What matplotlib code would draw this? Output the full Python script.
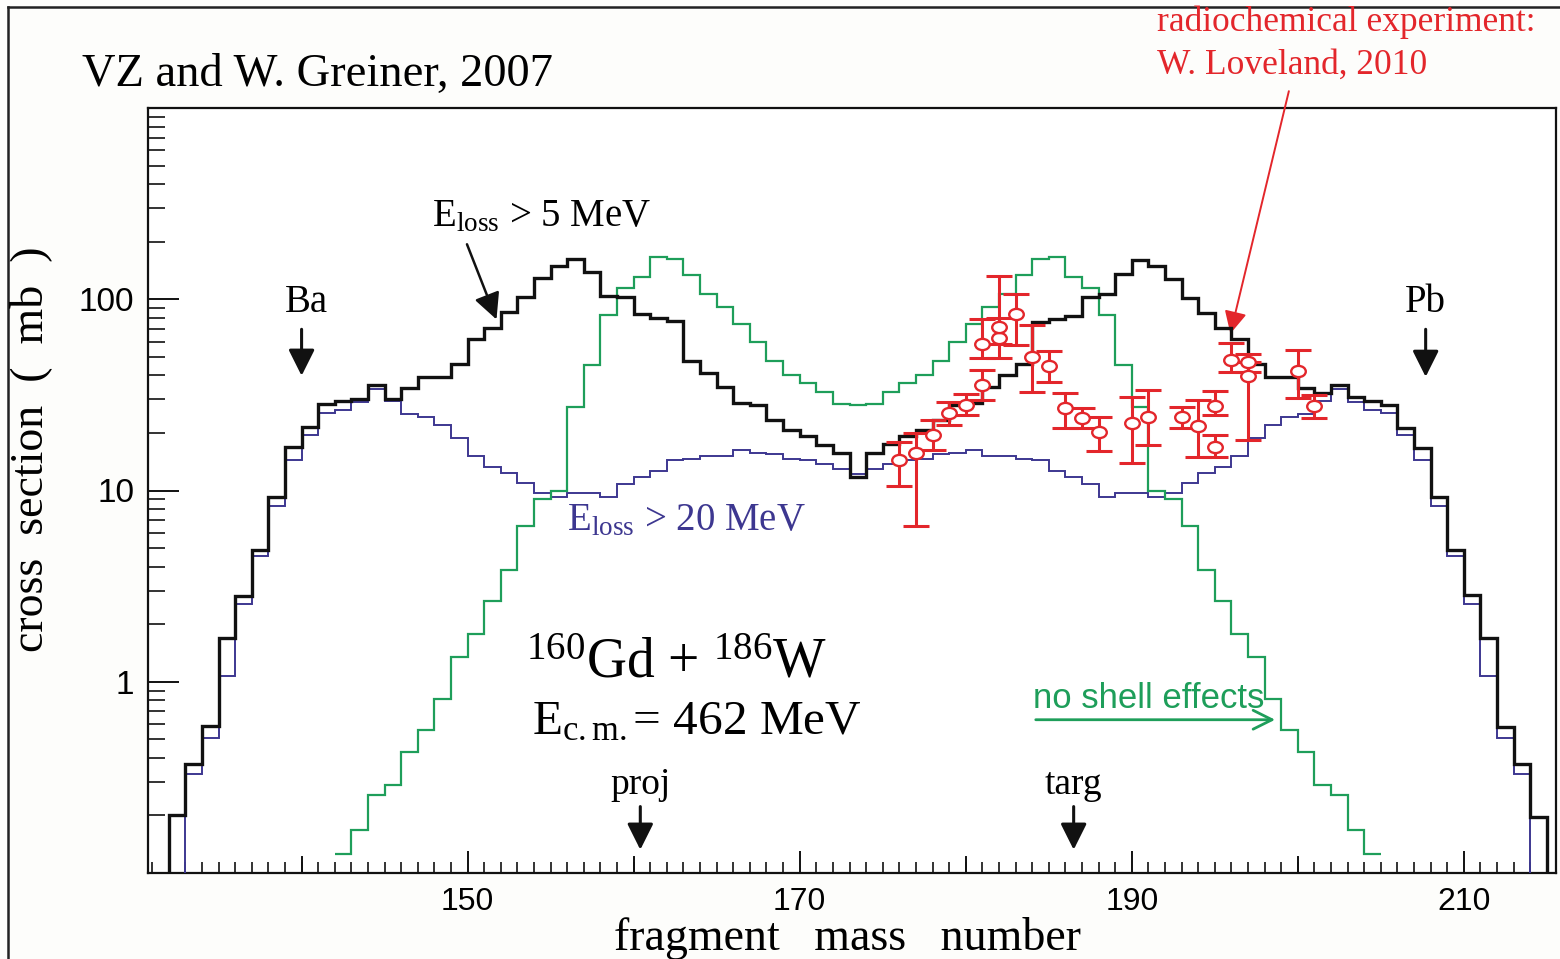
import numpy as np
import matplotlib
matplotlib.use("Agg")
import matplotlib.pyplot as plt
from matplotlib.path import Path
from matplotlib.ticker import FixedLocator, NullFormatter, MultipleLocator

# ---------------- data ----------------
black_start = 132
black_vals = [0.2, 0.37, 0.59, 1.7, 2.8, 4.9, 9.3, 16.8, 21.4, 28.3,
              29.3, 30.2, 35.8, 30.0, 34.3, 39.0, 39.0, 46.0, 61.7, 70.7,
              86.0, 103.0, 129.0, 150.0, 162.0, 138.0, 104.0, 103.0, 84.0, 80.0,
              77.0, 47.8, 41.0, 34.8, 28.8, 27.9, 23.5, 20.7, 19.3, 17.3,
              15.8, 11.8, 15.8, 17.5, 19.3, 20.7, 23.5, 27.9, 28.8, 34.8,
              40.0, 46.0, 76.0, 79.3, 82.0, 103.0, 107.0, 136.0, 161.0, 150.0,
              127.0, 102.0, 85.0, 70.7, 61.7, 46.0, 39.0, 39.0, 34.3, 32.3,
              35.6, 30.7, 29.3, 27.9, 21.2, 16.6, 9.2, 4.88, 2.84, 1.7,
              0.58, 0.37, 0.196]

blue_start = 133
blue_vals = [0.33, 0.51, 1.07, 2.56, 4.57, 8.3, 14.5, 19.4, 25.3, 26.5,
             29.0, 33.8, 29.5, 25.0, 24.1, 21.9, 18.9, 15.2, 13.3, 12.4,
             11.0, 9.7, 9.3, 9.7, 9.7, 9.3, 10.8, 11.8, 12.7, 14.4,
             14.7, 15.1, 15.1, 16.2, 15.8, 15.5, 14.7, 14.4, 13.7, 13.0,
             12.2, 13.0, 13.7, 14.4, 14.7, 15.5, 15.8, 16.2, 15.1, 15.1,
             14.7, 14.4, 12.7, 11.8, 10.8, 9.3, 9.7, 9.7, 9.3, 9.7,
             11.0, 12.4, 13.3, 15.2, 18.9, 21.9, 24.1, 25.0, 29.5, 33.8,
             29.0, 26.5, 25.3, 19.4, 14.5, 8.3, 4.57, 2.56, 1.07, 0.51,
             0.33]

green_start = 142
green_vals = [0.126, 0.168, 0.255, 0.29, 0.43, 0.56, 0.81, 1.34, 1.78, 2.64,
              3.82, 6.55, 9.0, 10.0, 27.2, 45.5, 82.5, 114.0, 131.0, 167.0,
              162.0, 134.0, 107.0, 90.6, 74.0, 59.6, 47.8, 40.0, 36.5, 32.8,
              28.5, 28.0, 28.5, 32.8, 36.5, 40.0, 47.8, 59.6, 74.0, 90.6,
              107.0, 134.0, 162.0, 167.0, 131.0, 114.0, 82.5, 45.5, 27.2, 10.0,
              9.0, 6.55, 3.82, 2.64, 1.78, 1.34, 0.81, 0.56, 0.43, 0.29,
              0.255, 0.168, 0.126]

# radiochemical experiment (W. Loveland, 2010)
exp_A   = [176, 177, 178, 179, 180, 181, 181, 182, 182, 183, 184, 185, 186,
           187, 188, 190, 191, 193, 194, 195, 195, 196, 197, 197, 200, 201]
exp_val = [14.5, 15.8, 19.5, 25.3, 27.9, 35.6, 58.0, 63.0, 71.6, 84.0, 49.6, 44.7, 26.9,
           23.8, 20.3, 22.6, 24.3, 24.3, 21.7, 27.6, 16.9, 48.4, 47.1, 39.6, 42.2, 27.6]
exp_lo  = [10.5, 6.5, 16.3, 22.0, 24.8, 29.6, 49.0, 49.0, 58.0, 57.5, 32.8, 37.0, 21.1,
           21.1, 16.0, 13.9, 17.3, 21.1, 15.0, 24.8, 15.0, 41.7, 41.7, 18.4, 30.3, 23.8]
exp_hi  = [18.0, 20.0, 23.3, 29.0, 32.0, 42.6, 79.0, 80.0, 133.0, 107.0, 73.0, 53.7, 32.2,
           26.9, 24.3, 30.9, 33.5, 27.4, 29.6, 33.0, 19.5, 58.7, 52.0, 47.0, 54.2, 31.5]

x_major = [150, 170, 190, 210]
y_major = [1, 10, 100]
y_major_labels = ["1", "10", "100"]

# ---------------- style ----------------
SERIF = ["Liberation Serif", "DejaVu Serif"]
SANS = ["Liberation Sans", "DejaVu Sans"]
plt.rcParams["mathtext.fontset"] = "custom"
plt.rcParams["mathtext.rm"] = "Liberation Serif"
plt.rcParams["mathtext.it"] = "Liberation Serif:italic"

C_BLACK = "#111111"
C_BLUE = "#3d3790"
C_GREEN = "#1e9e5a"
C_RED = "#e3262b"

W, H = 1560, 959
fig = plt.figure(figsize=(W / 100, H / 100), dpi=100, facecolor="#fdfdfb")

# outer frame (top and left edges visible)
fig.add_artist(plt.Line2D([8 / W, 8 / W], [0, 1 - 7 / H], transform=fig.transFigure, color="#222222", lw=1.8))
fig.add_artist(plt.Line2D([8 / W, 1], [1 - 7 / H, 1 - 7 / H], transform=fig.transFigure, color="#222222", lw=1.8))

ax = fig.add_axes([148 / W, 1 - 873 / H, (1556 - 148) / W, (873 - 108) / H])
ax.set_facecolor("white")
ax.set_yscale("log")
ax.set_xlim(130.75, 215.55)
ax.set_ylim(0.1, 1000)

def edges(start, vals):
    return np.arange(start, start + len(vals) + 1)

ax.stairs(blue_vals, edges(blue_start, blue_vals), baseline=1e-3, color=C_BLUE, lw=1.4, zorder=3)
ax.stairs(green_vals, edges(green_start, green_vals), baseline=None, color=C_GREEN, lw=1.6, zorder=3)
ax.stairs(black_vals, edges(black_start, black_vals), baseline=1e-3, color=C_BLACK, lw=2.4, zorder=4)

# open, slightly wide ellipse markers as in the reference
circ = Path.unit_circle()
ellipse = Path(circ.vertices * np.array([1.3, 1.0]), circ.codes)

yerr = [np.array(exp_val) - np.array(exp_lo), np.array(exp_hi) - np.array(exp_val)]
ax.errorbar(exp_A, exp_val, yerr=yerr, fmt="none",
            ecolor=C_RED, elinewidth=2.2, capsize=9.5, capthick=2.2, zorder=6)
ax.plot(exp_A, exp_val, linestyle="none", marker=ellipse, ms=10.5, mfc="white", mec=C_RED,
        mew=1.7, zorder=7)

# ticks
for s in ax.spines.values():
    s.set_linewidth(1.6)
    s.set_color("#111111")
ax.xaxis.set_major_locator(FixedLocator(x_major))
ax.xaxis.set_minor_locator(MultipleLocator(1))
ax.yaxis.set_major_locator(FixedLocator(y_major))
ax.yaxis.set_minor_locator(FixedLocator([m * 10.0 ** e for e in range(-1, 3) for m in range(2, 10)]))
ax.yaxis.set_minor_formatter(NullFormatter())
ax.set_yticklabels(y_major_labels)
ax.tick_params(axis="both", which="both", direction="in", top=False, right=False, color="#111111")
ax.tick_params(axis="x", which="major", length=16, width=1.4, labelsize=23, pad=10)
ax.tick_params(axis="x", which="minor", length=8, width=1.2)
ax.tick_params(axis="y", which="major", length=22, width=1.4, labelsize=24, pad=10)
ax.tick_params(axis="y", which="minor", length=12, width=1.2)
# 10-unit x ticks that are not labelled are longer too
for xv in [140, 160, 180, 200]:
    ax.plot([xv, xv], [0.1, 0.1 * 10 ** (16 / 191.25)], color="#111111", lw=1.4, zorder=2, clip_on=False)
for lab in ax.get_xticklabels() + ax.get_yticklabels():
    lab.set_family(SANS)

fig.text(848 / W, 1 - 938 / H, "fragment   mass   number", family=SERIF, fontsize=33,
         ha="center", va="center")
fig.text(31 / W, 1 - 449 / H, "cross  section  (  mb  )", family=SERIF, fontsize=33,
         ha="center", va="center", rotation=90)

# annotations
fig.text(82 / W, 1 - 75 / H, "VZ and W. Greiner, 2007", family=SERIF, fontsize=33.5,
         ha="left", va="center")
fig.text(1157 / W, 1 - 22 / H, "radiochemical experiment:", family=SERIF, fontsize=25.5,
         ha="left", va="center", color=C_RED)
fig.text(1157 / W, 1 - 65 / H, "W. Loveland, 2010", family=SERIF, fontsize=25.5,
         ha="left", va="center", color=C_RED)
ax.annotate("", xy=(195.9, 64.0), xytext=(199.5, 1265), annotation_clip=False,
            arrowprops=dict(arrowstyle="-|>", color=C_RED, lw=1.4, mutation_scale=34))

arrow_k = dict(arrowstyle="-|>", color=C_BLACK, lw=2.2, mutation_scale=40)
ax.text(140.3, 96, "Ba", family=SERIF, fontsize=28, ha="center", va="center")
ax.annotate("", xy=(140.0, 38.5), xytext=(140.0, 72), arrowprops=arrow_k)
ax.text(207.7, 96, "Pb", family=SERIF, fontsize=28, ha="center", va="center")
ax.annotate("", xy=(207.7, 38.0), xytext=(207.7, 72), arrowprops=arrow_k)
ax.text(160.4, 0.29, "proj", family=SERIF, fontsize=27, ha="center", va="center")
ax.annotate("", xy=(160.4, 0.128), xytext=(160.4, 0.23), arrowprops=arrow_k)
ax.text(186.5, 0.29, "targ", family=SERIF, fontsize=27, ha="center", va="center")
ax.annotate("", xy=(186.5, 0.128), xytext=(186.5, 0.23), arrowprops=arrow_k)

ax.text(147.85, 240, r"E$_{\rm loss}$ > 5 MeV", family=SERIF, fontsize=28, ha="left", va="baseline")
ax.annotate("", xy=(151.8, 76), xytext=(149.9, 200), arrowprops=dict(arrowstyle="-|>", color=C_BLACK,
            lw=1.8, mutation_scale=40))
ax.text(156.0, 6.2, r"E$_{\rm loss}$ > 20 MeV", family=SERIF, fontsize=28, ha="left",
        va="baseline", color=C_BLUE)

ax.text(153.5, 1.05, r"$^{160}$Gd + $^{186}$W", family=SERIF, fontsize=40, ha="left", va="baseline")
ax.text(153.9, 0.53, r"E$_{\rm c.m.}$= 462 MeV", family=SERIF, fontsize=35.5, ha="left", va="baseline")

ax.text(184.05, 0.73, "no shell effects", family=SANS, fontsize=25, ha="left", va="baseline",
        color=C_GREEN)
ax.annotate("", xy=(198.8, 0.633), xytext=(184.05, 0.633),
            arrowprops=dict(arrowstyle="->", color=C_GREEN, lw=2.0, mutation_scale=34))

fig.savefig("out.png", dpi=100, facecolor=fig.get_facecolor())
